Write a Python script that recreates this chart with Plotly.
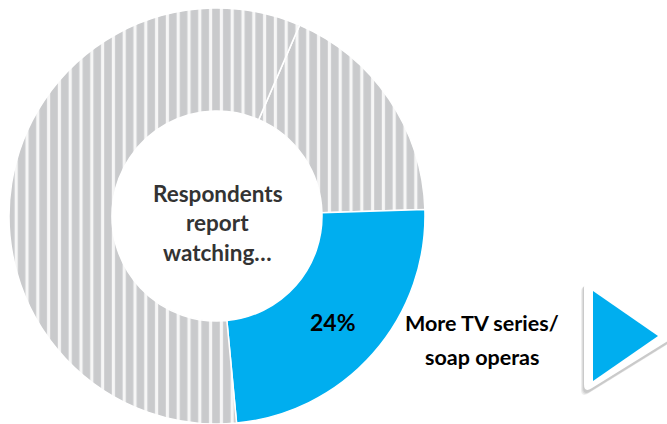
import plotly.graph_objects as go
import math

# ---- data ----
categories = ["Other responses", "More TV series/ soap operas", "Remaining responses"]
values = [18, 24, 58]
highlight_label = ["More TV series/", "soap operas"]
center_lines = ["Respondents", "report", "watching\u2026"]

W, H = 667, 424
GRAY = "#c9cacc"
STRIPE = "#f6f6f6"
BLUE = "#00aeef"
FONT = "Lato"


def px(x, y):
    return x / W, 1 - y / H


fig = go.Figure()
fig.add_trace(go.Pie(
    labels=categories,
    values=values,
    sort=False,
    direction="clockwise",
    rotation=23.4,
    hole=0.505,
    textinfo="none",
    hoverinfo="label+value",
    showlegend=False,
    domain=dict(x=[9 / W, 425 / W], y=[0, 0.981]),
    marker=dict(
        colors=[GRAY, BLUE, GRAY],
        line=dict(color="white", width=1.5),
        pattern=dict(
            shape=["|", "", "|"],
            fgcolor=STRIPE,
            bgcolor=[GRAY, BLUE, GRAY],
            size=10.8,
            solidity=0.3,
            fillmode="replace",
        ),
    ),
))

annotations = []
# center text
for line, yy in zip(center_lines, [193, 222, 252]):
    x, y = px(217.5, yy)
    annotations.append(dict(x=x, y=y, xref="paper", yref="paper", text=f"<b>{line}</b>",
                            showarrow=False, xanchor="center", yanchor="middle",
                            font=dict(family=FONT, size=22.5, color="#333333")))
# slice value label
x, y = px(333, 322)
annotations.append(dict(x=x, y=y, xref="paper", yref="paper", text=f"<b>{values[1]}%</b>",
                        showarrow=False, xanchor="center", yanchor="middle",
                        font=dict(family=FONT, size=23, color="#000000")))
# category label
for line, yy in zip(highlight_label, [323, 357]):
    x, y = px(482, yy)
    annotations.append(dict(x=x, y=y, xref="paper", yref="paper", text=f"<b>{line}</b>",
                            showarrow=False, xanchor="center", yanchor="middle",
                            font=dict(family=FONT, size=21.5, color="#000000")))


def tri_path(pts):
    s = ""
    for i, (x, y) in enumerate(pts):
        X, Y = px(x, y)
        s += ("M" if i == 0 else "L") + f" {X:.5f},{Y:.5f} "
    return s + "Z"


def rounded_tri(pts, r):
    n = len(pts)
    segs = []
    for i in range(n):
        p0 = pts[i - 1]
        p1 = pts[i]
        p2 = pts[(i + 1) % n]
        d1 = (p0[0] - p1[0], p0[1] - p1[1])
        d2 = (p2[0] - p1[0], p2[1] - p1[1])
        l1 = math.hypot(*d1)
        l2 = math.hypot(*d2)
        a = (p1[0] + d1[0] / l1 * r, p1[1] + d1[1] / l1 * r)
        b = (p1[0] + d2[0] / l2 * r, p1[1] + d2[1] / l2 * r)
        segs.append((a, p1, b))
    s = ""
    for i, (a, c, b) in enumerate(segs):
        A = px(*a)
        C = px(*c)
        B = px(*b)
        s += ("M" if i == 0 else "L") + f" {A[0]:.5f},{A[1]:.5f} Q {C[0]:.5f},{C[1]:.5f} {B[0]:.5f},{B[1]:.5f} "
    return s + "Z"


white_tri = [(584, 279), (676, 336), (584, 393)]
shapes = []
for dx, dy, op in [(-3, 5, 0.10), (-2, 4, 0.12), (-1, 3, 0.14)]:
    shadow = [(x + dx, y + dy) for x, y in white_tri]
    shapes.append(dict(type="path", xref="paper", yref="paper", path=rounded_tri(shadow, 9),
                       fillcolor=f"rgba(90,90,90,{op})", line=dict(width=0)))
shapes.append(dict(type="path", xref="paper", yref="paper", path=rounded_tri(white_tri, 9),
                   fillcolor="white", line=dict(width=0)))
shapes.append(dict(type="path", xref="paper", yref="paper",
                   path=tri_path([(593, 291), (658, 336), (593, 381)]),
                   fillcolor=BLUE, line=dict(width=0)))

fig.update_layout(
    width=W, height=H,
    margin=dict(l=0, r=0, t=0, b=0),
    paper_bgcolor="white", plot_bgcolor="white",
    annotations=annotations,
    shapes=shapes,
)

fig.write_html("out.html")
